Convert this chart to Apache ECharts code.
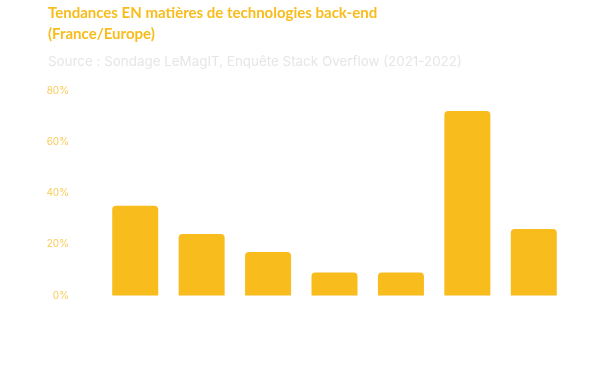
<!DOCTYPE html>
<html>
<head>
<meta charset="utf-8">
<script src="https://cdn.jsdelivr.net/npm/echarts@6/dist/echarts.min.js"></script>
<style>
html,body{margin:0;padding:0;background:#fff;}
#c{width:595px;height:373px;}
</style>
</head>
<body>
<div id="c"></div>
<script>
var categories = ["Java", "PHP", "Python", "Go", "Ruby", "Node.js", "C# / .NET"];
var values = [35, 24, 17, 9, 9, 72, 26];
var yTicks = [0, 20, 40, 60, 80];

var chart = echarts.init(document.getElementById('c'), null, {renderer: 'canvas'});
chart.setOption({
  backgroundColor: '#ffffff',
  animation: false,
  title: {
    text: 'Tendances EN matières de technologies back-end\n(France/Europe)',
    subtext: 'Source : Sondage LeMagIT, Enquête Stack Overflow (2021-2022)',
    left: 43,
    top: -2,
    itemGap: 10,
    textStyle: {
      fontFamily: 'Lato',
      fontSize: 15,
      fontWeight: 'bold',
      color: '#F8BC1C',
      lineHeight: 21
    },
    subtextStyle: {
      fontFamily: 'Inter',
      fontSize: 13.4,
      color: '#e6e6e6'
    }
  },
  grid: {left: 102, right: 28, top: 90.5, bottom: 77.5, containLabel: false},
  xAxis: {
    type: 'category',
    data: categories,
    axisLine: {show: false},
    axisTick: {show: false},
    axisLabel: {color: '#ffffff', fontSize: 10, margin: 14, fontFamily: 'Inter'}
  },
  yAxis: {
    type: 'value',
    min: yTicks[0],
    max: yTicks[yTicks.length - 1],
    interval: 20,
    splitLine: {show: false},
    axisLine: {show: false},
    axisTick: {show: false},
    axisLabel: {
      formatter: '{value}%',
      color: '#F9CC5A',
      fontSize: 10,
      margin: 33,
      fontFamily: 'Inter'
    }
  },
  series: [{
    type: 'bar',
    data: values,
    barWidth: 46,
    itemStyle: {color: '#F8BC1C', borderRadius: [4, 4, 0, 0]}
  }]
});
</script>
</body>
</html>
